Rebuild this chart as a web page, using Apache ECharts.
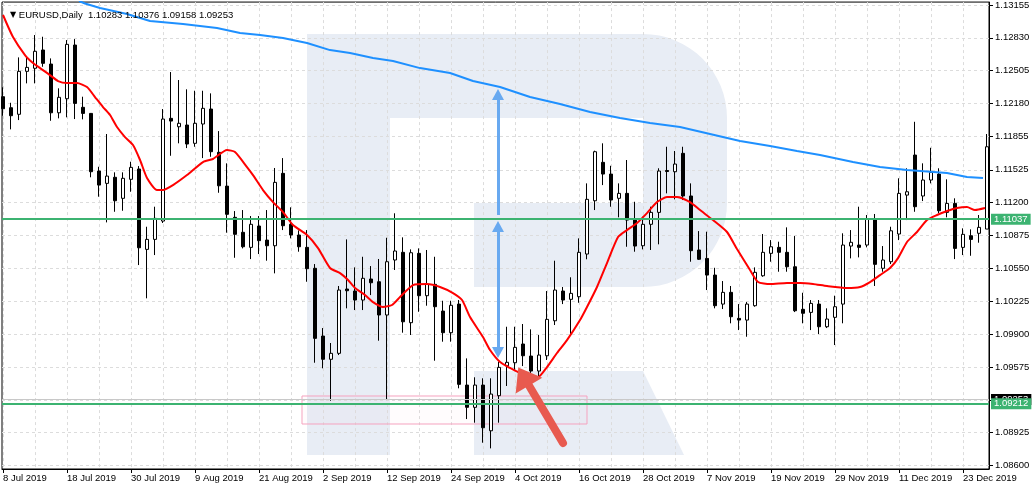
<!DOCTYPE html>
<html><head><meta charset="utf-8">
<script src="https://cdn.jsdelivr.net/npm/echarts@6/dist/echarts.min.js"></script>
<style>html,body{margin:0;padding:0;background:#fff}#c{width:1035px;height:490px}</style>
</head><body><div id="c"></div>
<script>
// ---- data (EURUSD daily, bar index 0 = 8 Jul 2019) ----
const xTickIdx = [0,8,16,24,32,40,48,56,64,72,80,88,96,104,112,120];
const xTickLabels = ['8 Jul 2019','18 Jul 2019','30 Jul 2019','9 Aug 2019','21 Aug 2019','2 Sep 2019','12 Sep 2019','24 Sep 2019','4 Oct 2019','16 Oct 2019','28 Oct 2019','7 Nov 2019','19 Nov 2019','29 Nov 2019','11 Dec 2019','23 Dec 2019'];
const gridIdx = [0,4,8,12,16,20,24,28,32,36,40,44,48,52,56,60,64,68,72,76,80,84,88,92,96,100,104,108,112,116,120];
const yTickLabels = ['1.08600','1.08925','1.09250','1.09575','1.09900','1.10225','1.10550','1.10875','1.11200','1.11525','1.11855','1.12180','1.12505','1.12830','1.13155'];

const opens  = [1.12248,1.12139,1.12074,1.12499,1.12529,1.12710,1.12571,1.12089,1.12228,1.12759,1.12143,1.12083,1.11513,1.11391,1.11451,1.11243,1.11431,1.11533,1.10738,1.10837,1.11018,1.12034,1.11951,1.11968,1.11787,1.11978,1.12126,1.11698,1.11364,1.11055,1.10907,1.10758,1.10969,1.10830,1.10774,1.11490,1.10986,1.10880,1.10758,1.10551,1.09881,1.09651,1.09710,1.10346,1.10326,1.10237,1.10445,1.10418,1.10089,1.10633,1.10709,1.10013,1.10699,1.10280,1.10392,1.10128,1.09914,1.10197,1.09396,1.09176,1.09396,1.08944,1.09291,1.09587,1.09617,1.09802,1.09683,1.09535,1.09686,1.10032,1.10326,1.10244,1.10270,1.10692,1.11219,1.11599,1.11483,1.11243,1.11292,1.11028,1.10774,1.10986,1.11104,1.11518,1.11506,1.11688,1.11266,1.10732,1.10649,1.10484,1.10197,1.10313,1.10056,1.10039,1.10181,1.10477,1.10699,1.10758,1.10709,1.10566,1.10145,1.10115,1.10197,1.09973,1.10066,1.10197,1.10771,1.10781,1.10781,1.11035,1.10551,1.10616,1.10890,1.11275,1.11671,1.11266,1.11424,1.11483,1.11104,1.11193,1.10758,1.10873,1.10897,1.10939];
const closes = [1.12129,1.12060,1.12499,1.12538,1.12697,1.12578,1.12089,1.12242,1.12766,1.12182,1.12083,1.11506,1.11374,1.11463,1.11219,1.11441,1.11549,1.10754,1.10837,1.11045,1.12027,1.12007,1.11985,1.11780,1.11985,1.12133,1.11704,1.11367,1.11085,1.10887,1.10764,1.10986,1.10824,1.10774,1.11401,1.10972,1.10880,1.10764,1.10547,1.09858,1.09651,1.09710,1.10336,1.10329,1.10237,1.10452,1.10408,1.10089,1.10616,1.10722,1.10022,1.10705,1.10280,1.10392,1.10171,1.09914,1.10185,1.09403,1.09176,1.09396,1.08974,1.09307,1.09571,1.09621,1.09769,1.09686,1.09535,1.09693,1.10046,1.10336,1.10237,1.10303,1.10709,1.11233,1.11704,1.11483,1.11226,1.11292,1.11028,1.10771,1.10986,1.11104,1.11513,1.11508,1.11582,1.11266,1.10725,1.10640,1.10484,1.10181,1.10313,1.10072,1.10039,1.10197,1.10511,1.10709,1.10764,1.10709,1.10566,1.10131,1.10106,1.10204,1.09973,1.10049,1.10171,1.10781,1.10808,1.10758,1.11035,1.10590,1.10633,1.10922,1.11292,1.11308,1.11160,1.11424,1.11500,1.11120,1.11193,1.10748,1.10887,1.10837,1.10956,1.11753];
const lows   = [1.12060,1.11925,1.12017,1.12380,1.12380,1.12544,1.12010,1.12034,1.12044,1.12027,1.12024,1.11451,1.11259,1.11005,1.11110,1.11120,1.11308,1.10583,1.10254,1.10682,1.10999,1.11664,1.11787,1.11740,1.11753,1.11641,1.11654,1.11298,1.10903,1.10655,1.10748,1.10642,1.10692,1.10626,1.10501,1.10929,1.10847,1.10715,1.10418,1.09617,1.09562,1.09241,1.09693,1.10155,1.10138,1.10138,1.10286,1.09835,1.09248,1.10534,1.09914,1.09891,1.10121,1.10181,1.09637,1.09825,1.09825,1.09364,1.09060,1.09024,1.08826,1.08770,1.09024,1.09387,1.09545,1.09584,1.09505,1.09463,1.09644,1.09990,1.10197,1.09891,1.10210,1.10640,1.11127,1.11374,1.11160,1.11055,1.10764,1.10715,1.10738,1.10732,1.10788,1.11292,1.11233,1.11226,1.10616,1.10633,1.10336,1.10155,1.10148,1.10007,1.09940,1.09874,1.10171,1.10467,1.10616,1.10517,1.10517,1.10118,1.10007,1.09940,1.09901,1.09960,1.09792,1.10007,1.10649,1.10659,1.10758,1.10376,1.10517,1.10593,1.10830,1.11028,1.11110,1.11216,1.11391,1.11095,1.11055,1.10642,1.10682,1.10675,1.10804,1.10939];
const highs  = [1.12341,1.12188,1.12637,1.12637,1.12858,1.12841,1.12627,1.12331,1.12808,1.12818,1.12248,1.12086,1.11555,1.11879,1.11500,1.11500,1.11605,1.11562,1.10962,1.11160,1.12126,1.12492,1.12413,1.12321,1.12307,1.12307,1.12281,1.11908,1.11589,1.11117,1.11127,1.11068,1.11068,1.11127,1.11543,1.11641,1.11154,1.10926,1.10929,1.10593,1.09960,1.09812,1.10376,1.10837,1.10560,1.10665,1.10573,1.10643,1.10853,1.11095,1.10857,1.10738,1.10748,1.10732,1.10665,1.10230,1.10230,1.10237,1.09660,1.09473,1.09463,1.09463,1.09627,1.09973,1.09973,1.10000,1.09947,1.09891,1.10326,1.10626,1.10366,1.10462,1.10847,1.11391,1.11714,1.11787,1.11565,1.11391,1.11622,1.11209,1.11061,1.11160,1.11540,1.11753,1.11711,1.11753,1.11391,1.10919,1.10913,1.10556,1.10425,1.10376,1.10197,1.10217,1.10560,1.10890,1.10830,1.10814,1.10956,1.10870,1.10309,1.10237,1.10237,1.10155,1.10280,1.10897,1.10929,1.11160,1.11078,1.11088,1.10771,1.10962,1.11441,1.11540,1.12000,1.11589,1.11743,1.11540,1.11431,1.11243,1.10946,1.10936,1.11078,1.11879];

// moving averages: [bar index, price]
const redMA = [[0,1.13056],[1.25,1.12838],[2.75,1.12660],[3.75,1.12581],[4.63,1.12531],[5.88,1.12462],[6.88,1.12403],[8,1.12383],[9.25,1.12383],[10.5,1.12344],[11.5,1.12245],[12.5,1.12146],[13.38,1.12067],[14.25,1.11948],[15.25,1.11849],[16.25,1.11770],[17.13,1.11622],[18,1.11444],[19.25,1.11325],[20,1.11325],[21.25,1.11374],[23,1.11473],[25,1.11602],[26.25,1.11632],[28,1.11721],[29,1.11701],[30.5,1.11552],[31.25,1.11473],[32.5,1.11325],[33.75,1.11206],[35,1.11107],[36.25,1.10979],[38,1.10880],[39.38,1.10751],[40.88,1.10554],[42.13,1.10504],[43.13,1.10435],[44,1.10356],[45.25,1.10287],[46.25,1.10217],[47.5,1.10168],[48.63,1.10188],[49.63,1.10267],[51.25,1.10385],[53,1.10395],[54.63,1.10366],[56.25,1.10306],[57.38,1.10237],[58.38,1.10069],[60,1.09871],[60.88,1.09743],[62.13,1.09624],[63.38,1.09565],[64.38,1.09525],[65.88,1.09495],[66.88,1.09475],[68,1.09574],[69.25,1.09713],[70.5,1.09841],[72.13,1.10039],[73,1.10168],[74.25,1.10366],[75.5,1.10603],[76.88,1.10860],[78,1.10929],[79.25,1.10999],[80.5,1.11097],[81.75,1.11206],[83,1.11256],[84.25,1.11256],[85.88,1.11206],[87.13,1.11127],[88.75,1.11028],[90.5,1.10910],[91.75,1.10741],[93.38,1.10534],[94.38,1.10415],[95.88,1.10395],[98,1.10405],[99.63,1.10405],[101.25,1.10395],[103,1.10375],[105.5,1.10356],[107.13,1.10366],[108.38,1.10415],[109.63,1.10484],[110.88,1.10554],[111.88,1.10652],[113,1.10811],[114.25,1.10910],[115.5,1.11028],[116.75,1.11078],[118,1.11117],[119.25,1.11147],[120.5,1.11157],[121.5,1.11127],[122.75,1.11147]];
const blueMA = [[9.5,1.13195],[10.25,1.13170],[12.13,1.13125],[15.5,1.13066],[18.38,1.12996],[22.5,1.12967],[26.75,1.12927],[29.63,1.12878],[32.13,1.12858],[35,1.12828],[38,1.12779],[40.88,1.12709],[43.38,1.12680],[46.25,1.12630],[48.75,1.12601],[52.13,1.12531],[55.88,1.12482],[58.75,1.12403],[62.13,1.12344],[65.88,1.12245],[69.63,1.12176],[73.38,1.12096],[77.13,1.12037],[80.88,1.11988],[84.63,1.11948],[88.38,1.11879],[92.13,1.11810],[95.88,1.11760],[99.25,1.11711],[102.13,1.11671],[106.25,1.11602],[109.63,1.11552],[113,1.11523],[118,1.11493],[120.5,1.11454],[122.5,1.11444]];

const levels = [1.11037, 1.09212];
const bidPrice = 1.09253;
const zoneX = [37.375, 73];
const zoneY = [1.09288, 1.09011];
const arrowX = 61.875;
const upArrow = [1.11078, 1.12269];
const rangeArrow = [1.10964, 1.09718];
const redArrowFrom = [70, 1.08823];
const redArrowTo = [65.08, 1.09480];

// ---- chart ----
const FONT = 'Liberation Sans';
const yTicks = yTickLabels.map(Number);
const yLabelTicks = yTicks.filter(v => v !== 1.0925);
const candleData = opens.map((o, i) => [i, o, closes[i], lows[i], highs[i]]);

function arcPts(cx, cy, r, a0, a1, n) {
  const pts = [];
  for (let k = 0; k <= n; k++) {
    const a = (a0 + (a1 - a0) * k / n) * Math.PI / 180;
    pts.push([cx + r * Math.cos(a), cy + r * Math.sin(a)]);
  }
  return pts;
}
const logoPts = [[307,34],[643,34]].concat(arcPts(643,118,84,-90,0,16))
  .concat([[727,203]]).concat(arcPts(643,203,84,0,90,16))
  .concat([[474,287],[474,203],[643,203],[643,118],[390,118],[390,455],[307,455]]);
const LOGO = '#e8edf5';

const lvlLabel = (bg) => ({show:true, position:'end', distance:2, color:'#fff', backgroundColor:bg,
  padding:[1,3,0,3], fontSize:9.5, fontFamily:FONT, formatter:p => Number(p.value).toFixed(5)});

const chart = echarts.init(document.getElementById('c'), null, {renderer:'canvas', devicePixelRatio:1});
chart.setOption({
  animation:false,
  backgroundColor:'#fff',
  textStyle:{fontFamily:FONT},
  title:{text:'{t|▼} EURUSD,Daily  1.10283 1.10376 1.09158 1.09253', left:5, top:5, z:10,
    textStyle:{fontSize:9.5, fontWeight:'normal', color:'#000', fontFamily:FONT,
      rich:{t:{fontFamily:'DejaVu Sans', fontSize:8, color:'#000'}}}},
  graphic:[
    {type:'polygon', z:-10, silent:true, shape:{points:logoPts}, style:{fill:LOGO}},
    {type:'polygon', z:-10, silent:true, shape:{points:[[474,371],[643,371],[684,455],[474,455]]}, style:{fill:LOGO}}
  ],
  grid:{left:2, top:2, right:46, bottom:21, show:true, borderColor:'#000', borderWidth:1, backgroundColor:'transparent'},
  xAxis:[
    {type:'value', min:-0.125, max:123.25, position:'bottom',
      axisLine:{show:true, onZero:false, lineStyle:{color:'#000', width:1}},
      axisTick:{show:true, customValues:xTickIdx, length:4, lineStyle:{color:'#000'}},
      axisLabel:{show:true, customValues:xTickIdx, align:'left', margin:4, color:'#000', fontSize:9.5, fontFamily:FONT,
        formatter:v => { const k = xTickIdx.indexOf(Math.round(v)); return k >= 0 ? xTickLabels[k] : ''; }},
      splitLine:{show:false}},
    {type:'value', min:-0.125, max:123.25, position:'top',
      axisLine:{show:false}, axisTick:{show:false, customValues:gridIdx}, axisLabel:{show:false, customValues:gridIdx},
      splitLine:{show:true, lineStyle:{color:'#dcdcdc', width:1, type:[3,3]}}}
  ],
  yAxis:{type:'value', position:'right', min:1.08566, max:1.13184, scale:true,
    axisLine:{show:true, onZero:false, lineStyle:{color:'#000', width:1}},
    axisTick:{show:true, customValues:yTicks, length:4, lineStyle:{color:'#000'}},
    axisLabel:{customValues:yLabelTicks, margin:6, color:'#000', fontSize:9.5, fontFamily:FONT,
      formatter:v => { let b = 0; yTicks.forEach((t, k) => { if (Math.abs(t - v) < Math.abs(yTicks[b] - v)) b = k; }); return yTickLabels[b]; }},
    splitLine:{show:true, lineStyle:{color:'#dcdcdc', width:1, type:[3,3]}}},
  series:[
    {type:'line', data:[], z:1, silent:true,
      markArea:{silent:true, itemStyle:{color:'rgba(255,190,210,0.04)', borderColor:'#f5a3bf', borderWidth:1},
        data:[[{coord:[zoneX[0], zoneY[0]]},{coord:[zoneX[1], zoneY[1]]}]]}},
    {type:'line', data:[], z:2, silent:true,
      markLine:{silent:true, symbol:['none','none'], animation:false, precision:5,
        data:[
          {yAxis:bidPrice, lineStyle:{color:'#c8c8c8', width:1, type:'solid'}, label:lvlLabel('#000')},
          {yAxis:levels[0], lineStyle:{color:'#3cb371', width:2, type:'solid'}, label:lvlLabel('#3cb371')},
          {yAxis:levels[1], lineStyle:{color:'#3cb371', width:2, type:'solid'}, label:lvlLabel('#3cb371')}
        ]}},
    {type:'candlestick', data:candleData, encode:{x:0, y:[1,2,3,4]}, barWidth:4, z:3, silent:true, clip:true,
      itemStyle:{color:'#ffffff', color0:'#000000', borderColor:'#000000', borderColor0:'#000000', borderWidth:1}},
    {type:'line', data:blueMA, showSymbol:false, z:4, silent:true, clip:true,
      lineStyle:{color:'#1e90ff', width:2}},
    {type:'line', data:redMA, showSymbol:false, z:4, silent:true, clip:true, smooth:0.2,
      lineStyle:{color:'#ff0000', width:2}},
    {type:'line', data:[], z:6, silent:true,
      markLine:{silent:true, animation:false, precision:5, symbol:['none','triangle'], symbolSize:[12,11], label:{show:false},
        lineStyle:{color:'#68a9f0', width:3, type:'solid'},
        data:[[{coord:[arrowX, upArrow[0]]},{coord:[arrowX, upArrow[1]]}]]}},
    {type:'line', data:[], z:6, silent:true,
      markLine:{silent:true, animation:false, precision:5, symbol:['triangle','triangle'], symbolSize:[12,11], label:{show:false},
        lineStyle:{color:'#68a9f0', width:3, type:'solid'},
        data:[[{coord:[arrowX, rangeArrow[0]]},{coord:[arrowX, rangeArrow[1]]}]]}},
    {type:'line', data:[], z:7, silent:true,
      markLine:{silent:true, animation:false, precision:5, symbol:['none','triangle'], symbolSize:[31,21], label:{show:false},
        lineStyle:{color:'#e85a4f', width:8, type:'solid', cap:'round'},
        data:[[{coord:redArrowFrom},{coord:redArrowTo}]]}}
  ]
});
</script>
</body></html>
